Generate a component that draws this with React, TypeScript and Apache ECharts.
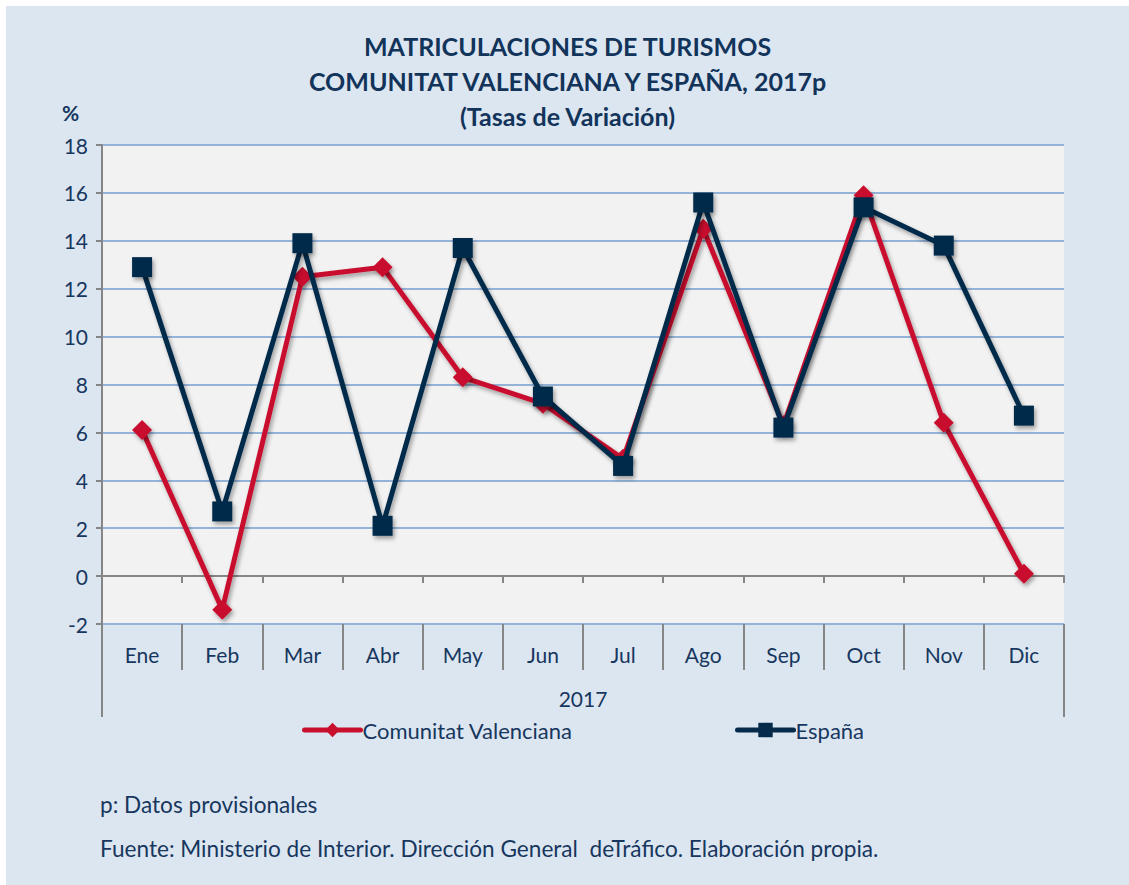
import React, { useEffect, useRef } from "react";
import * as echarts from "echarts";

const months = ["Ene", "Feb", "Mar", "Abr", "May", "Jun", "Jul", "Ago", "Sep", "Oct", "Nov", "Dic"];
const yearLabel = ["2017"];
const valenciana = [6.1, -1.4, 12.5, 12.9, 8.3, 7.2, 4.9, 14.5, 6.3, 15.9, 6.4, 0.1];
const espana = [12.9, 2.7, 13.9, 2.1, 13.7, 7.5, 4.6, 15.6, 6.2, 15.4, 13.8, 6.7];
const seriesNames = ["Comunitat Valenciana", "España"];
const titleLines = [
  "MATRICULACIONES DE TURISMOS",
  "COMUNITAT VALENCIANA Y ESPAÑA, 2017p",
  "(Tasas de Variación)",
];
const footnotes = [
  "p: Datos provisionales",
  "Fuente: Ministerio de Interior. Dirección General  deTráfico. Elaboración propia.",
];

const FONT = "Lato, 'Open Sans', sans-serif";
const TEXT = "#17375e";
const RED = "#c8102e";
const NAVY = "#062a4a";
const GRAYAX = "#868686";

export default function App() {
  const ref = useRef<HTMLDivElement>(null);
  useEffect(() => {
    document.body.style.margin = "0";
    if (!ref.current) return;
    const chart = echarts.init(ref.current, undefined, { renderer: "svg" });
    const shadow = {
      shadowColor: "rgba(0,0,0,0.35)",
      shadowBlur: 4,
      shadowOffsetX: 2,
      shadowOffsetY: 3,
    };
    const legendCommon = {
      top: 708,
      itemWidth: 56,
      itemHeight: 18,
      itemGap: 0,
      lineStyle: { width: 5, cap: "round", shadowBlur: 0, shadowOffsetX: 0, shadowOffsetY: 0, shadowColor: "transparent" },
      itemStyle: { shadowBlur: 0, shadowOffsetX: 0, shadowOffsetY: 0, shadowColor: "transparent" },
      textStyle: { fontFamily: FONT, fontSize: 22, color: TEXT, padding: [0, 0, 0, -3] },
    };
    chart.setOption({
      animation: false,
      backgroundColor: "#dce6f1",
      textStyle: { fontFamily: FONT },
      title: {
        text: titleLines.join("\n"),
        left: "center",
        top: 17,
        textStyle: {
          fontFamily: FONT,
          fontSize: 25,
          fontWeight: "bold",
          color: "#12345a",
          lineHeight: 35,
        },
      },
      grid: {
        left: 96,
        top: 139,
        width: 962,
        height: 479,
        show: true,
        backgroundColor: "#f2f2f2",
        borderWidth: 0,
        containLabel: false,
      },
      legend: [
        { ...legendCommon, data: [seriesNames[0]], left: 291 },
        { ...legendCommon, data: [seriesNames[1]], left: 724 },
      ],
      xAxis: [
        {
          type: "category",
          data: months,
          position: "bottom",
          boundaryGap: true,
          axisLine: { show: false, onZero: false },
          axisTick: { show: true, interval: 0, length: 46, lineStyle: { color: GRAYAX, width: 2 } },
          axisLabel: { margin: 20, fontSize: 21, color: TEXT, fontFamily: FONT, interval: 0 },
          splitLine: { show: false },
        },
        {
          type: "category",
          data: months,
          position: "top",
          boundaryGap: true,
          z: 1,
          axisLine: { show: true, onZero: true, lineStyle: { color: GRAYAX, width: 2 } },
          axisTick: { show: true, inside: true, interval: 0, length: 7, lineStyle: { color: GRAYAX, width: 2 } },
          axisLabel: { show: false },
          splitLine: { show: false },
        },
        {
          type: "category",
          data: yearLabel,
          position: "bottom",
          boundaryGap: true,
          axisLine: { show: false, onZero: false },
          axisTick: { show: true, interval: 0, length: 93, lineStyle: { color: GRAYAX, width: 2 } },
          axisLabel: { margin: 64, fontSize: 21, color: TEXT, fontFamily: FONT },
          splitLine: { show: false },
        },
      ],
      yAxis: {
        type: "value",
        min: -2,
        max: 18,
        interval: 2,
        axisLine: { show: true, lineStyle: { color: GRAYAX, width: 2 } },
        axisTick: { show: true, length: 6, lineStyle: { color: GRAYAX, width: 2 } },
        axisLabel: { margin: 14, fontSize: 21, color: TEXT, fontFamily: FONT },
        splitLine: { show: true, lineStyle: { color: "#95b3d7", width: 2 } },
      },
      graphic: [
        {
          type: "text",
          left: 56,
          top: 96,
          style: { text: "%", font: `bold 21px ${FONT}`, fill: TEXT },
        },
        {
          type: "text",
          left: 94,
          top: 787,
          style: { text: footnotes[0], font: `22.6px ${FONT}`, fill: TEXT },
        },
        {
          type: "text",
          left: 94,
          top: 831,
          style: { text: footnotes[1], font: `22.6px ${FONT}`, fill: TEXT },
        },
      ],
      series: [
        {
          name: seriesNames[0],
          type: "line",
          xAxisIndex: 0,
          data: valenciana,
          symbol: "diamond",
          symbolSize: 20,
          color: RED,
          lineStyle: { color: RED, width: 5, ...shadow },
          itemStyle: { color: RED, ...shadow },
          z: 3,
        },
        {
          name: seriesNames[1],
          type: "line",
          xAxisIndex: 0,
          data: espana,
          symbol: "rect",
          symbolSize: 20,
          color: NAVY,
          lineStyle: { color: NAVY, width: 5, ...shadow },
          itemStyle: { color: NAVY, ...shadow },
          z: 4,
        },
      ],
    });
    return () => chart.dispose();
  }, []);
  return (
    <div style={{ position: "relative", width: 1129, height: 885, background: "#ffffff", overflow: "hidden" }}>
      <div
        ref={ref}
        style={{ position: "absolute", left: 6, top: 6, width: 1123, height: 879 }}
      />
    </div>
  );
}
